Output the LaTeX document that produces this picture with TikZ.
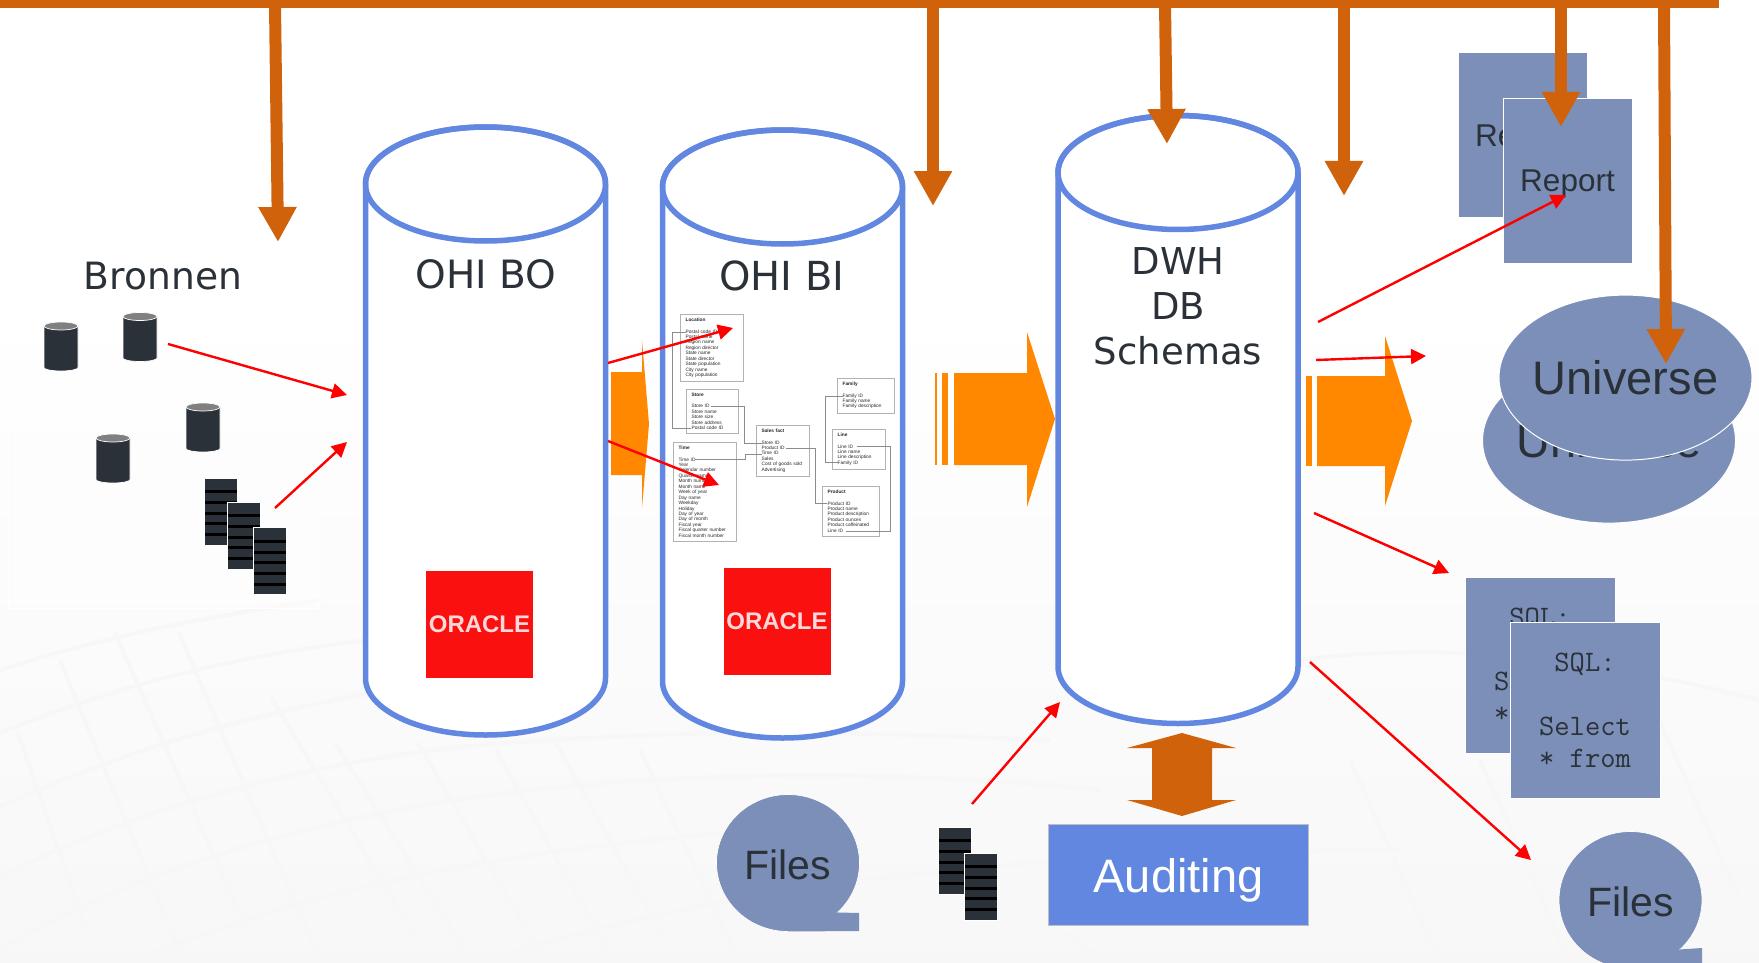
\documentclass[tikz,border=0pt]{standalone}
\usepackage{fontspec}
\setmainfont{Liberation Sans}
\newfontfamily\dejavu{DejaVu Sans}
\usetikzlibrary{arrows.meta,shapes.geometric}

\definecolor{busorange}{HTML}{D0620B}
\definecolor{blockorange}{HTML}{FF8800}
\definecolor{cylblue}{HTML}{6287E0}
\definecolor{docblue}{HTML}{7B8FB8}
\definecolor{inkdark}{HTML}{2A3138}
\definecolor{oraclered}{HTML}{FB1010}

\tikzset{
	datastore/.pic={
		\draw[draw=cylblue, line width=5.5pt, fill=white] (-120,247) -- (-120,-247) arc (180:360:120 and 57) -- (120,247) arc (0:180:120 and 57) -- cycle;
		\draw[draw=cylblue, line width=5.5pt] (0,247) ellipse (120 and 57);
	},
	dbcan/.pic={
		\draw[draw=white, line width=.7pt, fill=inkdark] (-17,20.5) -- (-17,-21) arc (180:360:17 and 3.5) -- (17,20.5) arc (0:180:17 and 4) -- cycle;
		\draw[draw=white, line width=.7pt, fill=black!50!white] (0,20.5) ellipse (17 and 4);
	}
}

\begin{document}
\begin{tikzpicture}[x=1pt,y=1pt]

		\tikzstyle{mesh} = [line width=4pt, black!3!white]
		\tikzstyle{sheet} = [rectangle, draw=white, line width=.7pt, fill=inkdark, minimum width=33pt, minimum height=67pt, inner sep=0, outer sep=0, path picture={
			\fill[black] ([yshift=-12pt]path picture bounding box.north west) rectangle ++(34pt,-3pt);
			\fill[black] ([yshift=-23pt]path picture bounding box.north west) rectangle ++(34pt,-3pt);
			\fill[black] ([yshift=-33.5pt]path picture bounding box.north west) rectangle ++(34pt,-3pt);
			\fill[black] ([yshift=-44pt]path picture bounding box.north west) rectangle ++(34pt,-3pt);
			\fill[black] ([yshift=-55pt]path picture bounding box.north west) rectangle ++(34pt,-3pt);}]
		\tikzstyle{title} = [text=inkdark, font=\dejavu\fontsize{37}{45}\selectfont, align=center, inner sep=0]
		\tikzstyle{oracle} = [rectangle, fill=oraclered, text=white!85!red, minimum size=107pt, inner sep=0, font=\bfseries\fontsize{24}{24}\selectfont]
		\tikzstyle{report} = [rectangle, draw=white, line width=.7pt, fill=docblue, text=inkdark, text depth=0pt, minimum width=129pt, minimum height=165pt, font=\fontsize{31.5}{36}\selectfont]
		\tikzstyle{sqlbox} = [rectangle, draw=white, line width=1pt, fill=docblue, text=inkdark, minimum width=150pt, minimum height=176pt, align=center, font=\ttfamily\fontsize{29.7}{32}\selectfont]
		\tikzstyle{universe} = [ellipse, draw=white, line width=1pt, fill=docblue, text=inkdark, minimum width=253pt, minimum height=165pt, inner sep=0, font=\fontsize{47}{50}\selectfont]
		\tikzstyle{filesbox} = [ellipse, draw=white, line width=.7pt, fill=docblue, text=inkdark, text height=33pt, text depth=0pt, minimum width=143pt, minimum height=137pt, inner sep=0, outer sep=0, font=\fontsize{41}{45}\selectfont]
		\tikzstyle{table} = [rectangle, draw=black!30!white, line width=.6pt, fill=white, text=black!85!white, anchor=north west, align=left, inner xsep=5.3pt, inner ysep=4pt, font=\fontsize{4.8}{5.45}\selectfont]
		\tikzstyle{keylink} = [black!45!white, line width=.5pt]
		\tikzstyle{flow} = [-{Triangle[length=15pt,width=15pt]}, red, line width=2.4pt]
		\tikzstyle{busarrow} = [-{Triangle[length=35pt,width=36pt]}, busorange, line width=12pt]

		\clip (0,0) rectangle (1759,-963);

		% achtergrond
		\fill[white] (0,0) rectangle (1759,-963);
		\shade[top color=white, bottom color=black!3!white] (0,-300) rectangle (1759,-963);
		\draw[mesh] (0,-670) .. controls (115,-633) and (220,-615) .. (320,-600);
		\draw[mesh] (0,-733) .. controls (138,-677) and (250,-655) .. (367,-640);
		\draw[mesh] (0,-807) .. controls (138,-743) and (298,-700) .. (459,-680);
		\draw[mesh] (0,-877) .. controls (138,-807) and (321,-757) .. (505,-743);
		\draw[mesh] (0,-950) .. controls (138,-867) and (321,-817) .. (505,-793);
		\draw[mesh] (505,-793) .. controls (700,-770) and (900,-770) .. (1100,-790);
		\draw[mesh] (505,-743) .. controls (700,-730) and (800,-730) .. (1050,-740);
		\draw[mesh] (130,-963) .. controls (300,-890) and (500,-850) .. (760,-830);
		\draw[mesh] (480,-963) .. controls (700,-890) and (1000,-850) .. (1400,-850);
		\draw[mesh] (1300,-660) .. controls (1450,-640) and (1600,-660) .. (1759,-700);
		\draw[mesh] (18,-733) -- (87,-933);
		\draw[mesh] (60,-660) -- (184,-963);
		\draw[mesh] (115,-633) -- (248,-933);
		\draw[mesh] (179,-633) -- (321,-963);
		\draw[mesh] (271,-697) -- (413,-933);
		\draw[mesh] (335,-743) -- (473,-963);
		\draw[mesh] (418,-743) -- (546,-963);
		\draw[mesh] (496,-750) -- (615,-963);
		\draw[mesh] (556,-743) -- (661,-933);
		\draw[mesh] (640,-750) -- (740,-963);
		\draw[mesh] (1060,-930) -- (1110,-963);
		\draw[mesh] (1350,-760) -- (1440,-963);
		\draw[mesh] (1480,-760) -- (1570,-963);
		\draw[mesh] (1650,-700) -- (1740,-900);

		\draw[white, fill=white, fill opacity=.4] (8,-265) rectangle (318,-608);

		% bronnen
		\node[text=inkdark, font=\dejavu\fontsize{37.6}{40}\selectfont] at (163,-276) (bronnen) {Bronnen};
		\pic (cana) at (61,-346.5) {dbcan};
		\pic (canb) at (140,-337) {dbcan};
		\pic (canc) at (203,-427.5) {dbcan};
		\pic (cand) at (113,-458.5) {dbcan};
		\node[sheet] at (220.5,-511.5) (sheeta) {};
		\node[sheet] at (244,-535.5) (sheetb) {};
		\node[sheet] at (269.5,-561) (sheetc) {};

		% databases
		\pic (ohibo) at (485.5,-431) {datastore};
		\pic (ohibi) at (782.5,-434) {datastore};
		\pic (dwh) at (1178,-419.5) {datastore};

		\node[title, font=\dejavu\fontsize{39}{45}\selectfont] at (486,-274) (ohibolabel) {OHI BO};
		\node[title, font=\dejavu\fontsize{40}{45}\selectfont] at (782,-276) (ohibilabel) {OHI BI};
		\node[title] at (1178,-306) (dwhlabel) {DWH\\DB\\Schemas};

		\node[oracle] at (479.5,-624.5) (oraclebo) {ORACLE};
		\node[oracle] at (777,-621.5) (oraclebi) {ORACLE};

		% sterschema
		\node[table, text width=52pt] at (680,-314) (location) {\textbf{Location}\\[5.8pt]Postal code ID\\Postal name\\Region name\\Region director\\State name\\State director\\State population\\City name\\City population};
		\node[table, text width=41pt] at (686,-389) (store) {\textbf{Store}\\[5.8pt]Store ID\\Store name\\Store size\\Store address\\Postal code ID};
		\node[table, text width=52pt] at (673,-442) (time) {\textbf{Time}\\[5.8pt]Time ID\\Year\\Calendar number\\Quarter name\\Month number\\Month name\\Week of year\\Day name\\Weekday\\Holiday\\Day of year\\Day of month\\Fiscal year\\Fiscal quarter number\\Fiscal month number};
		\node[table, text width=42pt] at (756,-425) (salesfact) {\textbf{Sales fact}\\[5.8pt]Store ID\\Product ID\\Time ID\\Sales\\Cost of goods sold\\Advertising};
		\node[table, text width=46pt] at (837,-378) (family) {\textbf{Family}\\[5.8pt]Family ID\\Family name\\Family description};
		\node[table, text width=42pt] at (832,-429) (line) {\textbf{Line}\\[5.8pt]Line ID\\Line name\\Line description\\Family ID};
		\node[table, text width=46pt] at (822,-486) (product) {\textbf{Product}\\[5.8pt]Product ID\\Product name\\Product description\\Product ounces\\Product caffeinated\\Line ID};

		\coordinate (locationkey) at (686,-332);
		\coordinate (storeloc) at (691,-428.5);
		\coordinate (storekey) at (711,-406.5);
		\coordinate (factstore) at (761.5,-443.5);
		\coordinate (timekey) at (695,-459.5);
		\coordinate (facttime) at (761.5,-454);
		\coordinate (factproduct) at (786,-448.5);
		\coordinate (productkey) at (826.5,-503.5);
		\coordinate (familykey) at (842.5,-396);
		\coordinate (linefamily) at (837.5,-462.5);
		\coordinate (linekey) at (856.5,-446);
		\coordinate (productline) at (846,-531.5);

		\draw[keylink] (locationkey) -| (672.7,-428.5) -- (storeloc);
		\draw[keylink] (storekey) -| (744.3,-443.5) -- (factstore);
		\draw[keylink] (timekey) -| (745,-454) -- (facttime);
		\draw[keylink] (factproduct) -| (815,-503.5) -- (productkey);
		\draw[keylink] (familykey) -| (825.7,-462.5) -- (linefamily);
		\draw[keylink] (linekey) -| (890,-531.5) -- (productline);

		% blokpijlen
		\fill[blockorange] (611,-372) -- (642,-372) -- (642,-340) -- (649,-424) -- (642,-508) -- (642,-475) -- (611,-475) -- cycle;
		\fill[blockorange] (954,-373) -- (1027,-373) -- (1027,-332) -- (1055,-419) -- (1027,-507) -- (1027,-465) -- (954,-465) -- cycle;
		\fill[blockorange] (935,-373) rectangle (937,-465);
		\fill[blockorange] (942,-373) rectangle (948,-465);
		\fill[blockorange] (1317,-376) -- (1385,-376) -- (1385,-336) -- (1412,-421) -- (1385,-506) -- (1385,-466) -- (1317,-466) -- cycle;
		\fill[blockorange] (1306,-376) rectangle (1312,-466);

		\fill[busorange] (1182,-733) -- (1236,-748) -- (1212,-748) -- (1212,-800) -- (1236,-800) -- (1182,-816) -- (1127,-800) -- (1152,-800) -- (1152,-748) -- (1127,-748) -- cycle;

		% uitvoer
		\node[report] at (1522.5,-135.3) (reportback) {Report};
		\node[report] at (1567.5,-180.7) (reportfront) {Report};
		\node[universe] at (1609,-440.6) (universeback) {\makebox[0pt]{Universe}};
		\node[universe] at (1625.5,-377.6) (universefront) {\makebox[0pt]{Universe}};
		\node[sqlbox] at (1540,-665) (sqlback) {SQL:\\[32pt]Select\\{*} from};
		\node[sqlbox] at (1585,-710.5) (sqlfront) {SQL:\\[32pt]Select\\{*} from};

		\node[filesbox] at (788,-863) (filesin) {Files};
		\fill[docblue] (filesin.-45) -- (859,-913) -- (859,-931) -- (filesin.-90) -- cycle;
		\node[filesbox] at (1630.5,-900) (filesout) {Files};
		\fill[docblue] (filesout.-45) -- (1702,-948) -- (1702,-968) -- (filesout.-90) -- cycle;

		\node[sheet] at (955,-860.5) (sheetd) {};
		\node[sheet] at (980.5,-886.5) (sheete) {};

		\node[rectangle, fill=cylblue, draw=black!25!white, line width=.5pt, text=white, text depth=0pt, minimum width=260pt, minimum height=101pt, font=\fontsize{47}{50}\selectfont] at (1178.5,-875) (auditing) {Auditing};

		% rode pijlen
		\coordinate (flowa) at (168,-344);
		\coordinate (flowatip) at (347,-395);
		\coordinate (flowb) at (275,-508);
		\coordinate (flowbtip) at (347,-442);
		\coordinate (flowc) at (608,-363);
		\coordinate (flowctip) at (733,-328);
		\coordinate (flowd) at (608,-441);
		\coordinate (flowdtip) at (719,-485);
		\coordinate (flowe) at (1318,-322);
		\coordinate (flowetip) at (1566,-195);
		\coordinate (flowf) at (1316,-360);
		\coordinate (flowftip) at (1426,-356);
		\coordinate (flowg) at (1314,-513);
		\coordinate (flowgtip) at (1449,-573);
		\coordinate (flowh) at (1310,-662);
		\coordinate (flowhtip) at (1531,-860);
		\coordinate (flowi) at (972,-804);
		\coordinate (flowitip) at (1060,-702);

		\draw[flow] (flowa) -- (flowatip);
		\draw[flow] (flowb) -- (flowbtip);
		\draw[flow] (flowc) -- (flowctip);
		\draw[flow] (flowd) -- (flowdtip);
		\draw[flow] (flowe) -- (flowetip);
		\draw[flow] (flowf) -- (flowftip);
		\draw[flow] (flowg) -- (flowgtip);
		\draw[flow] (flowh) -- (flowhtip);
		\draw[flow] (flowi) -- (flowitip);

		% oranje balk
		\node[rectangle, fill=busorange, minimum width=1719pt, minimum height=8pt, inner sep=0, outer sep=0] at (859.5,-4) (bus) {};

		\coordinate (busa) at (275,-4);
		\coordinate (busatip) at (278,-242);
		\coordinate (busb) at (933,-4);
		\coordinate (busbtip) at (933,-206);
		\coordinate (busc) at (1165,-4);
		\coordinate (busctip) at (1167,-144);
		\coordinate (busd) at (1344,-4);
		\coordinate (busdtip) at (1344,-196);
		\coordinate (buse) at (1561,-4);
		\coordinate (busetip) at (1561,-127);
		\coordinate (busf) at (1664,-4);
		\coordinate (busftip) at (1666,-364);

		\draw[busarrow] (busa) -- (busatip);
		\draw[busarrow] (busb) -- (busbtip);
		\draw[busarrow] (busc) -- (busctip);
		\draw[busarrow] (busd) -- (busdtip);
		\draw[busarrow] (buse) -- (busetip);
		\draw[busarrow] (busf) -- (busftip);

\end{tikzpicture}
\end{document}
